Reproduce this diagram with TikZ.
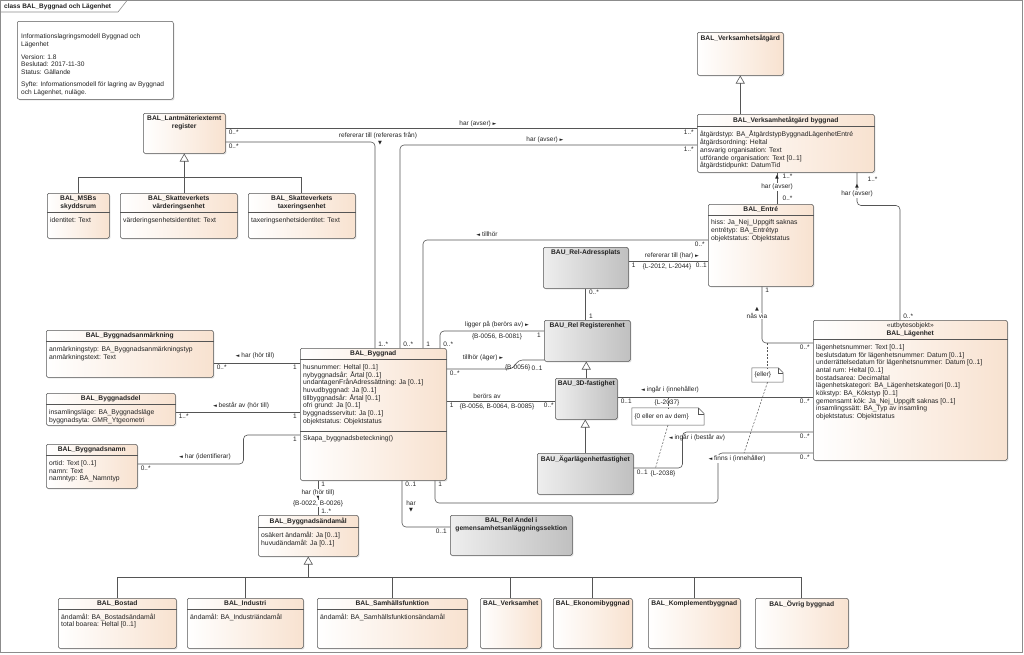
\documentclass[tikz,border=0pt]{standalone}
\usepackage{fontspec}
\setmainfont{Liberation Sans}
\newfontfamily\symf{DejaVu Sans}
\usetikzlibrary{calc,arrows.meta,shadows}
\definecolor{pe}{RGB}{248,226,208}
\definecolor{ln}{RGB}{85,85,85}
\definecolor{gl}{RGB}{238,238,238}
\definecolor{gd}{RGB}{192,192,192}
\definecolor{tx}{RGB}{35,35,35}
\newcommand{\myR}{{\symf\fontsize{5}{6}\selectfont ►}}
\newcommand{\myL}{{\symf\fontsize{5}{6}\selectfont ◄}}
\newcommand{\myU}{{\symf\fontsize{5}{6}\selectfont ▲}}
\newcommand{\myD}{{\symf\fontsize{5}{6}\selectfont ▼}}
\tikzset{
 cls/.style={draw=ln, line width=0.5pt, rounded corners=1.5pt, left color=white, right color=pe,
   drop shadow={opacity=0.3, shadow xshift=1.2pt, shadow yshift=-1.2pt}},
 gcls/.style={cls, left color=gl, right color=gd},
 ttl/.style={font=\fontsize{6.7}{8}\selectfont\bfseries, align=center, inner xsep=1pt, inner ysep=2.5pt, text=tx},
 attr/.style={font=\fontsize{6.8}{7.7}\selectfont, align=left, inner sep=0pt, text=tx},
 sepl/.style={draw=ln, line width=0.5pt},
 conn/.style={draw=ln, line width=0.6pt, rounded corners=4pt},
 genl/.style={draw=ln, line width=0.6pt, -{Triangle[open,length=8pt,width=9pt]}},
 lab/.style={font=\fontsize{6.5}{7}\selectfont, inner sep=0.5pt, text=tx},
 mult/.style={lab, inner xsep=3pt, inner ysep=1.5pt},
 dl/.style={draw=ln, line width=0.5pt, dash pattern=on 2pt off 1.5pt},
 notel/.style={draw=ln, line width=0.5pt, fill=white},
}
\newcommand{\ucls}[8]{%
 \node[#2, anchor=north west, minimum width=#5pt, minimum height=#6pt] (#1) at (#3,#4) {};
 \node[ttl, anchor=north] (#1-t) at (#1.north) {#7};
 \ifx\relax#8\relax\else
  \draw[sepl] (#1-t.south -| #1.west) -- (#1-t.south -| #1.east);
  \node[attr, anchor=north west] (#1-a) at ($(#1-t.south -| #1.west)+(3,4.5)$) {#8};
 \fi}
\begin{document}
\begin{tikzpicture}[x=1pt,y=-1pt]
\useasboundingbox (0,0) rectangle (1024,654);
% frame
\draw[black!45, line width=0.6pt] (0.5,0.5) rectangle (1022.5,652.5);
\draw[black!45, line width=0.6pt] (0.5,12) -- (118,12) -- (127,0.5);
\node[anchor=west, font=\fontsize{6.5}{7}\selectfont\bfseries, text=tx, inner sep=0pt] (ftitle) at (4,6.5) {class BAL\_Byggnad och Lägenhet};
% info note
\node[draw=ln, line width=0.5pt, rounded corners=2pt, fill=white, drop shadow={opacity=0.3, shadow xshift=1.2pt, shadow yshift=-1.2pt}, anchor=north west, minimum width=156pt, minimum height=78pt] (info) at (17,21) {};
\node[anchor=north west, align=left, font=\fontsize{6.6}{7.8}\selectfont, text=tx, inner sep=0pt] (infot) at (21,34) {Informationslagringsmodell Byggnad och\\Lägenhet\\[4.5pt]Version: 1.8\\Beslutad: 2017-11-30\\Status: Gällande\\[4.5pt]Syfte: Informationsmodell för lagring av Byggnad\\och Lägenhet, nuläge.};
% classes
\ucls{lant}{cls}{143}{113}{82}{40}{BAL\_Lantmäteriexternt\\register}{}
\ucls{msb}{cls}{47}{193}{62}{45}{BAL\_MSBs\\skyddsrum}{identitet: Text}
\ucls{vard}{cls}{120}{193}{117}{45}{BAL\_Skatteverkets\\värderingsenhet}{värderingsenhetsidentitet: Text}
\ucls{tax}{cls}{248}{193}{107}{45}{BAL\_Skatteverkets\\taxeringsenhet}{taxeringsenhetsidentitet: Text}
\ucls{verk}{cls}{697}{32}{86}{43}{BAL\_Verksamhetsåtgärd}{}
\ucls{verkb}{cls}{697}{114}{177}{58}{BAL\_Verksamhetåtgärd byggnad}{åtgärdstyp: BA\_ÅtgärdstypByggnadLägenhetEntré\\åtgärdsordning: Heltal\\ansvarig organisation: Text\\utförande organisation: Text [0..1]\\åtgärdstidpunkt: DatumTid}
\ucls{entre}{cls}{708}{204}{105}{82}{BAL\_Entré}{hiss: Ja\_Nej\_Uppgift saknas\\entrétyp: BA\_Entrétyp\\objektstatus: Objektstatus}
\ucls{adr}{gcls}{543}{247}{85}{41}{BAU\_Rel-Adressplats}{}
\ucls{reg}{gcls}{544}{320}{86}{41}{BAU\_Rel Registerenhet}{}
\ucls{d3}{gcls}{555}{378}{62}{41}{BAU\_3D-fastighet}{}
\ucls{agl}{gcls}{537}{453}{96}{41}{BAU\_Ägarlägenhetfastighet}{}
\ucls{andel}{gcls}{450}{515}{122}{40}{BAL\_Rel Andel i\\gemensamhetsanläggningssektion}{}
\ucls{lag}{cls}{813}{320}{194}{140}{{\mdseries «utbytesobjekt»}\\BAL\_Lägenhet}{lägenhetsnummer: Text [0..1]\\beslutsdatum för lägenhetsnummer: Datum [0..1]\\underrättelsedatum för lägenhetsnummer: Datum [0..1]\\antal rum: Heltal [0..1]\\bostadsarea: Decimaltal\\lägenhetskategori: BA\_Lägenhetskategori [0..1]\\kökstyp: BA\_Kökstyp [0..1]\\gemensamt kök: Ja\_Nej\_Uppgift saknas [0..1]\\insamlingssätt: BA\_Typ av insamling\\objektstatus: Objektstatus}
\ucls{byg}{cls}{300}{348}{146}{132}{BAL\_Byggnad}{husnummer: Heltal [0..1]\\nybyggnadsår: Årtal [0..1]\\undantagenFrånAdressättning: Ja [0..1]\\huvudbyggnad: Ja [0..1]\\tillbyggnadsår: Årtal [0..1]\\ofri grund: Ja [0..1]\\byggnadsservitut: Ja [0..1]\\objektstatus: Objektstatus}
\draw[sepl] ($(byg.north west)+(0,83)$) -- ($(byg.north east)+(0,83)$);
\node[attr, anchor=north west] (byg-o) at ($(byg.north west)+(3,87)$) {Skapa\_byggnadsbeteckning()};
\ucls{anm}{cls}{46}{330}{167}{47}{BAL\_Byggnadsanmärkning}{anmärkningstyp: BA\_Byggnadsanmärkningstyp\\anmärkningstext: Text}
\ucls{bdel}{cls}{46}{393}{129}{32}{BAL\_Byggnadsdel}{insamlingsläge: BA\_Byggnadsläge\\byggnadsyta: GMR\_Ytgeometri}
\ucls{bnam}{cls}{46}{444}{91}{44}{BAL\_Byggnadsnamn}{ortid: Text [0..1]\\namn: Text\\namntyp: BA\_Namntyp}
\ucls{band}{cls}{258}{515}{100}{41}{BAL\_Byggnadsändamål}{osäkert ändamål: Ja [0..1]\\huvudändamål: Ja [0..1]}
\ucls{bost}{cls}{58}{598}{118}{50}{BAL\_Bostad}{ändamål: BA\_Bostadsändamål\\total boarea: Heltal [0..1]}
\ucls{ind}{cls}{187}{598}{116}{50}{BAL\_Industri}{ändamål: BA\_Industriändamål}
\ucls{sam}{cls}{317}{598}{150}{50}{BAL\_Samhällsfunktion}{ändamål: BA\_Samhällsfunktionsändamål}
\ucls{verks}{cls}{480}{598}{61}{50}{BAL\_Verksamhet}{}
\ucls{ekon}{cls}{553}{598}{79}{50}{BAL\_Ekonomibyggnad}{}
\ucls{komp}{cls}{648}{598}{92}{50}{BAL\_Komplementbyggnad}{}
\ucls{ovr}{cls}{755}{598}{93}{50}{BAL\_Övrig byggnad}{}
% generalizations
\coordinate (g1) at ($(lant.south)+(0,24)$);
\draw[conn, sharp corners] (msb.north) |- (g1) -| (tax.north);
\draw[genl] (vard.north -| lant.south) -- (lant.south);
\coordinate (g2) at ($(band.south)+(0,21)$);
\draw[conn, sharp corners] (bost.north) |- (g2) -| (ovr.north);
\foreach \n in {ind,sam,verks,ekon,komp}{\draw[conn] (\n.north) -- (\n.north |- g2);}
\draw[genl] (g2) -- (band.south);
\draw[genl] (verk.south |- verkb.north) -- (verk.south);
\draw[genl] (d3.north) -- (d3.north |- reg.south);
\draw[genl] (agl.north) -- (agl.north |- d3.south);
% associations
\coordinate (c1) at ($(lant.north east)+(0,15)$);
\draw[conn] (c1) node[mult, anchor=north west]{0..*} -- (c1 -| verkb.west) node[mult, anchor=north east]{1..*};
\coordinate (c2) at ($(lant.north east)+(0,29)$);
\draw[conn] (c2) node[mult, anchor=north west]{0..*} -| ($(byg.north west)+(75,0)$) node[mult, anchor=south west]{1..*};
\coordinate (c3) at ($(verkb.north west)+(0,31)$);
\draw[conn] (c3) node[mult, anchor=north east]{1..*} -| ($(byg.north west)+(100,0)$) node[mult, anchor=south west]{0..*};
\coordinate (c4) at ($(entre.north west)+(0,36)$);
\draw[conn] (c4) node[mult, anchor=north east]{0..*} -| ($(byg.north west)+(123,0)$) node[mult, anchor=south west]{1};
\draw[conn] ($(byg.north west)+(140,0)$) node[mult, anchor=south west]{0..*} |- ($(reg.north west)+(0,11)$) node[mult, anchor=north east]{1};
\coordinate (c6) at ($(byg.north east)+(0,21)$);
\draw[conn] (c6) node[mult, anchor=north west]{0..*} -- ++(66,0) -- ++(6,-9) -- ($(reg.north west)+(0,40)$);
\coordinate (c7) at ($(byg.north east)+(0,53)$);
\draw[conn] (c7) node[mult, anchor=north west]{1} -- (c7 -| d3.west) node[mult, anchor=north east, inner xsep=1pt]{0..*};
\draw[conn] (adr.south) node[mult, anchor=north west]{0..*} -- (adr.south |- reg.north) node[mult, anchor=south west]{1};
\coordinate (c11) at ($(adr.north east)+(0,14)$);
\draw[conn] (c11) node[mult, anchor=north west]{1} -- (c11 -| entre.west) node[mult, anchor=north east, inner xsep=1pt]{0..1};
\draw[conn] ($(verkb.south west)+(80,0)$) -- ($(entre.north west)+(69,0)$);
\draw[conn] ($(verkb.south west)+(160,0)$) -- ++(0,33) -| ($(lag.north west)+(87,0)$) node[mult, anchor=south west]{0..*};
\coordinate (c13) at ($(lag.north west)+(0,23)$);
\draw[conn] ($(entre.south west)+(54,0)$) node[mult, anchor=north west]{1} |- (c13) node[mult, anchor=north east]{0..*};
\coordinate (c14) at ($(d3.north east)+(0,19)$);
\draw[conn] (c14) node[mult, anchor=north west]{0..1} -- (c14 -| lag.west) node[mult, anchor=north east]{0..*};
\coordinate (c15) at ($(agl.north east)+(0,15)$);
\draw[conn] (c15) node[mult, anchor=north west]{0..1} -- ++(49,0) |- ($(lag.north west)+(0,112)$) node[mult, anchor=north east]{0..*};
\coordinate (c16) at ($(lag.north west)+(0,133)$);
\draw[conn] ($(byg.south west)+(135,0)$) node[mult, anchor=north west]{1} |- ($(c16)+(-95,50)$) |- (c16) node[mult, anchor=north east]{0..*};
\draw[conn] ($(byg.south west)+(102,0)$) node[mult, anchor=north west]{0..1} |- ($(andel.north west)+(0,12)$) node[mult, anchor=north east]{0..1};
\draw[conn] ($(byg.south west)+(18,0)$) node[mult, anchor=north west]{1} -- ($(band.north west)+(60,0)$) node[mult, anchor=south west]{1..*};
\coordinate (c19) at ($(anm.north east)+(0,33)$);
\draw[conn] (c19) node[mult, anchor=north west]{0..*} -- (c19 -| byg.west) node[mult, anchor=north east]{1};
\coordinate (c20) at ($(bdel.north east)+(0,19)$);
\draw[conn] (c20) node[mult, anchor=north west]{1..*} -- (c20 -| byg.west) node[mult, anchor=north east]{1};
\coordinate (c21) at ($(bnam.north east)+(0,20)$);
\draw[conn] (c21) node[mult, anchor=north west]{0..*} -- ++(106,0) |- ($(byg.north west)+(0,87)$) node[mult, anchor=north east]{1};
% labels
\node[lab] (t1) at (478,124) {har (avser) \myR};
\node[lab] (t2) at (378,136) {refererar till (refereras från)};
\node[lab] (t2a) at (380,143.5) {\myD};
\node[lab] (t3) at (545,140) {har (avser) \myR};
\node[lab] (t4) at (487,234) {\myL\ tillhör};
\node[lab] (t5) at (497,325) {ligger på (berörs av) \myR};
\node[lab] (t5b) at (497,336.5) {\{B-0056, B-0081\}};
\node[lab] (t6) at (483,358) {tillhör (äger) \myR};
\node[lab, anchor=east] (t6b) at (531,368) {\{B-0056\}};
\node[lab, anchor=west] (t6c) at (531,368) {0..1};
\node[lab] (t7) at (487,396) {berörs av};
\node[lab] (t7b) at (497,407) {\{B-0056, B-0064, B-0085\}};
\node[lab] (t11) at (672,256) {refererar till (har) \myR};
\node[lab] (t11b) at (667,267) {\{L-2012, L-2044\}};
\node[lab] (t12a) at (777,177) {\myU};
\node[lab, anchor=west] (t12b) at (782,176) {1..*};
\node[lab, fill=white] (t12c) at (777,187) {har (avser)};
\node[lab, anchor=west] (t12d) at (782,198) {0..*};
\node[lab, anchor=west] (t13a) at (867,179) {1..*};
\node[lab] (t13b) at (857,186) {\myU};
\node[lab, fill=white] (t13c) at (857,194) {har (avser)};
\node[lab] (t14a) at (757,309) {\myU};
\node[lab, fill=white] (t14b) at (757,316) {nås via};
\node[lab] (t15) at (670,390) {\myL\ ingår i (innehåller)};
\node[lab] (t15b) at (667,403) {\{L-2037\}};
\node[lab] (t16) at (697,438) {\myL\ ingår i (består av)};
\node[lab, anchor=west] (t16b) at (650,474) {\{L-2038\}};
\node[lab, fill=white] (t17) at (737,459) {\myL\ finns i (innehåller)};
\node[lab] (t18) at (411,503) {har};
\node[lab] (t18b) at (411,510) {\myD};
\node[lab, fill=white] (t19) at (318,492.5) {har (hör till)};
\node[lab, inner sep=0pt] (t19a) at (318,498) {{\symf\fontsize{3.5}{4}\selectfont ▼}};
\node[lab, fill=white] (t19b) at (318,503.5) {\{B-0022, B-0026\}};
\node[lab] (t20) at (255,356) {\myL\ har (hör till)};
\node[lab] (t21) at (241,406) {\myL\ består av (hör till)};
\node[lab] (t22) at (205,457) {\myL\ har (identifierar)};
% notes
\node[lab, minimum width=72pt, minimum height=17pt] (n1) at (668,416.5) {};
\draw[notel] (n1.north west) -- ($(n1.north east)+(-6,0)$) -- ($(n1.north east)+(0,6)$) -- (n1.south east) -- (n1.south west) -- cycle;
\draw[notel, fill=none] ($(n1.north east)+(-6,0)$) -- ($(n1.north east)+(-6,6)$) -- ($(n1.north east)+(0,6)$);
\node[lab, anchor=west] (n1t) at ($(n1.west)+(2,0)$) {\{0 eller en av dem\}};
\draw[dl] (n1.north |- c14) -- (n1.north);
\draw[dl] (n1.south) -- ($(c15)+(22,0)$);
\node[lab, minimum width=31pt, minimum height=14pt] (n2) at (767.5,375) {};
\draw[notel] (n2.north west) -- ($(n2.north east)+(-5,0)$) -- ($(n2.north east)+(0,5)$) -- (n2.south east) -- (n2.south west) -- cycle;
\draw[notel, fill=none] ($(n2.north east)+(-5,0)$) -- ($(n2.north east)+(-5,5)$) -- ($(n2.north east)+(0,5)$);
\node[lab, anchor=west] (n2t) at ($(n2.west)+(2,0)$) {\{eller\}};
\draw[dl] (n2.north |- c13) -- (n2.north);
\draw[dl] (n2.south) -- ($(c16)+(-69,0)$);
\end{tikzpicture}
\end{document}
